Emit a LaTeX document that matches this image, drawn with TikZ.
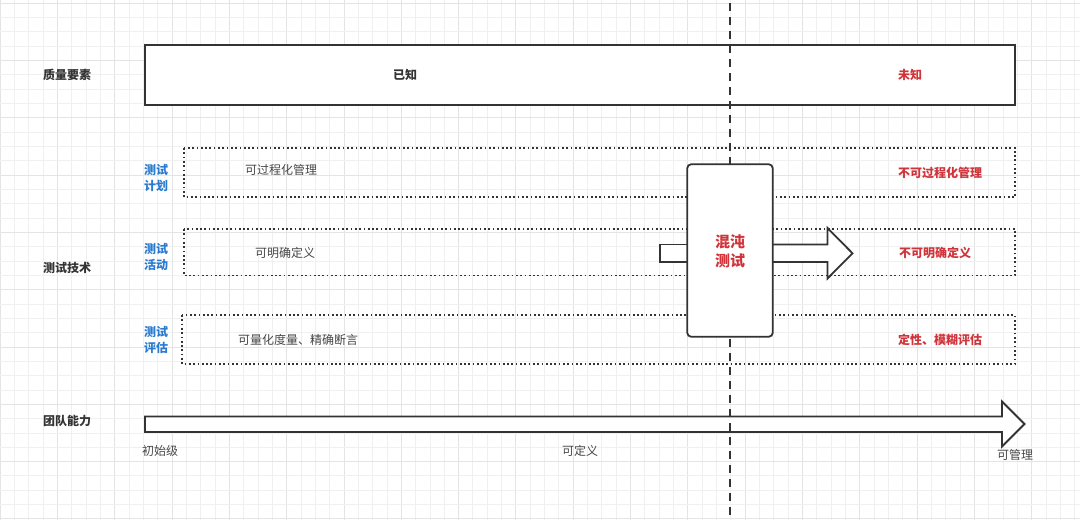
\documentclass[tikz,border=0pt]{standalone}
\usepackage{fontspec}
\newfontfamily\cjk{Noto Sans CJK SC}
\definecolor{txt}{HTML}{333333}
\definecolor{ln}{HTML}{333333}
\definecolor{redt}{HTML}{D0343A}
\definecolor{bluet}{HTML}{2A7BD0}
\definecolor{gmin}{HTML}{F0F0F0}
\definecolor{gmaj}{HTML}{E4E4E4}
\tikzset{
  base/.style={font=\cjk\fontsize{12}{16}\selectfont, inner sep=0pt, text=txt},
  rowlabel/.style={base, font=\cjk\bfseries\fontsize{12}{16}\selectfont},
  graytext/.style={base, text=txt!90},
  redtext/.style={base, font=\cjk\bfseries\fontsize{12}{16}\selectfont, text=redt},
  bluetext/.style={base, font=\cjk\bfseries\fontsize{12}{16}\selectfont, text=bluet, align=center},
  boxline/.style={draw=ln, line width=1.8pt},
  dotbox/.style={draw=ln, line width=1.7pt, dash pattern=on 1.7pt off 2.6pt},
  dashline/.style={draw=ln, line width=2pt, dash pattern=on 8pt off 6pt, dash phase=-3pt},
}
\begin{document}
\begin{tikzpicture}[x=1pt,y=-1pt]
\useasboundingbox (0,0) rectangle (1080,520);
\fill[white] (0,0) rectangle (1080,520);
% grid
\foreach \i in {0,...,76}{
  \pgfmathtruncatemacro{\m}{mod(\i,4)}
  \ifnum\m=0
    \draw[gmaj, line width=0.8pt] (\i*14.33,0) -- (\i*14.33,520);
  \else
    \draw[gmin, line width=0.8pt] (\i*14.33,0) -- (\i*14.33,520);
  \fi
}
\foreach \j in {0,...,36}{
  \pgfmathtruncatemacro{\m}{mod(\j,4)}
  \ifnum\m=0
    \draw[gmaj, line width=0.8pt] (0,3+\j*14.33) -- (1080,3+\j*14.33);
  \else
    \draw[gmin, line width=0.8pt] (0,3+\j*14.33) -- (1080,3+\j*14.33);
  \fi
}
% quality row
\draw[boxline, fill=white] (145,45) rectangle (1015,105);
\node[rowlabel] (qlabel) at (67,75) {质量要素};
\node[base, font=\cjk\bfseries\fontsize{12}{16}\selectfont] (known) at (405,75) {已知};
\node[redtext] (unknown) at (910,75) {未知};
% dotted rows
\draw[dotbox] (184,148) rectangle (1015,197);
\draw[dotbox] (184,229) rectangle (1015,275.5);
\draw[dotbox] (182,315) rectangle (1015,364);
\node[bluetext] (plan) at (156,178) {测试\\计划};
\node[bluetext] (act) at (156,256.5) {测试\\活动};
\node[bluetext] (eval) at (156,340) {测试\\评估};
\node[rowlabel] (tech) at (67,268) {测试技术};
\node[graytext] (p1) at (281,170) {可过程化管理};
\node[graytext] (a1) at (285,253) {可明确定义};
\node[graytext] (e1) at (298,340) {可量化度量、精确断言};
\node[redtext] (p2) at (940,173) {不可过程化管理};
\node[redtext] (a2) at (935,253) {不可明确定义};
\node[redtext] (e2) at (940,340) {定性、模糊评估};
% team row
\node[rowlabel] (team) at (67,421) {团队能力};
\draw[boxline, fill=white] (145,416.5) -- (1002,416.5) -- (1002,401.5) -- (1024.5,424) -- (1002,446.5) -- (1002,432) -- (145,432) -- cycle;
\node[graytext] (l1) at (160,451) {初始级};
\node[graytext] (l2) at (580,451) {可定义};
\node[graytext] (l3) at (1015,455) {可管理};
% dashed divider
\coordinate (dtop) at (730,0);
\coordinate (dbot) at (730,520);
\draw[dashline] (dtop) -- (dbot);
% chaos box and arrows
\draw[boxline, fill=white] (688,244.5) -- (660,244.5) -- (660,262) -- (688,262);
\draw[boxline, fill=white] (772,244.5) -- (827.5,244.5) -- (827.5,228) -- (852.5,253.3) -- (827.5,278.5) -- (827.5,262) -- (772,262);
\node[boxline, fill=white, rounded corners=4pt, minimum width=85.5pt, minimum height=172.5pt, inner sep=0pt] (chaos) at (730,250.5) {};
\node[base, font=\cjk\bfseries\fontsize{15}{19}\selectfont, text=redt, align=center] (chaostext) at (730,251) {混沌\\测试};
\end{tikzpicture}
\end{document}
